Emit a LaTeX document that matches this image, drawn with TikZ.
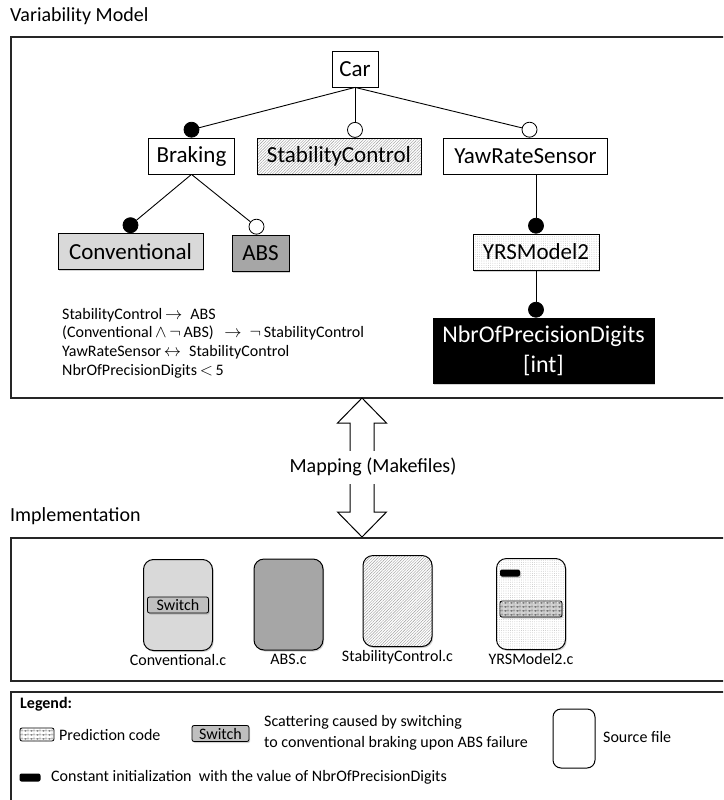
\documentclass[tikz,border=0pt]{standalone}
\usepackage{fontspec}
\setmainfont{Carlito}
\usetikzlibrary{positioning,calc,shadows,patterns,patterns.meta}

\definecolor{convgray}{HTML}{D9D9D9}
\definecolor{absgray}{HTML}{A6A6A6}
\definecolor{switchgray}{HTML}{BFBFBF}
\newcommand{\fsz}[2]{\fontsize{#1}{#2}\selectfont}

% small bricks for the prediction code
\pgfdeclarepatternformonly{finebricks}{\pgfpointorigin}{\pgfqpoint{6pt}{4pt}}{\pgfqpoint{6pt}{4pt}}{%
  \pgfsetlinewidth{0.35pt}
  \pgfpathmoveto{\pgfqpoint{0pt}{0pt}}\pgfpathlineto{\pgfqpoint{6pt}{0pt}}
  \pgfpathmoveto{\pgfqpoint{0pt}{2pt}}\pgfpathlineto{\pgfqpoint{6pt}{2pt}}
  \pgfpathmoveto{\pgfqpoint{1.5pt}{0pt}}\pgfpathlineto{\pgfqpoint{1.5pt}{2pt}}
  \pgfpathmoveto{\pgfqpoint{4.5pt}{2pt}}\pgfpathlineto{\pgfqpoint{4.5pt}{4pt}}
  \pgfusepath{stroke}}

\begin{document}
\begin{tikzpicture}[x=1pt, y=-1pt,
    frame/.style={draw=black!85, line width=1.4pt},
    feat/.style={draw, line width=0.8pt, minimum height=36pt, inner xsep=3pt, inner ysep=0pt, font=\fsz{23}{28}},
    tree/.style={line width=0.9pt},
    mand/.style={circle, draw, line width=0.8pt, fill=black, minimum size=15pt, inner sep=0pt, anchor=south},
    opt/.style={mand, fill=white},
    shade/.style={drop shadow={shadow xshift=1.2pt, shadow yshift=-1.5pt, opacity=0.35}},
    hatch/.style={preaction={fill=white}, pattern={Lines[angle=45,distance=2pt,line width=0.4pt]}, pattern color=gray!80},
    dotty/.style={preaction={fill=white}, pattern={Dots[distance=2.2pt,radius=0.35pt]}, pattern color=gray!70},
    srcfile/.style={draw, line width=1pt, rounded corners=10pt, minimum width=69pt, minimum height=91pt},
    switchbox/.style={draw, line width=0.8pt, fill=switchgray, rounded corners=2pt, minimum width=#1, minimum height=16pt, inner sep=0pt, font=\fsz{16}{16}},
    predcode/.style={draw, line width=0.8pt, preaction={fill=white}, pattern=finebricks, pattern color=black!75, rounded corners=2pt, inner sep=0pt},
    constbar/.style={fill=black, rounded corners=2pt, minimum width=20pt, minimum height=7pt, inner sep=0pt},
    filelabel/.style={font=\fsz{16}{18}, inner sep=1pt},
    txt/.style={font=\fsz{16}{19}, inner sep=0pt, anchor=west}
  ]
  \useasboundingbox (0,0) rectangle (723,800);
  \clip (0,0) rectangle (723,800);

  % variability model
  \node[anchor=west, font=\fsz{20}{24}, inner sep=0pt] (vmTitle) at (10,16) {Variability Model};
  \draw[frame] (11,37) rectangle (740,398);

  \node[feat, minimum width=46pt] (car) at (355,69) {Car};
  \node[feat, minimum width=86pt] (braking) at (191.5,156) {Braking};
  \node[feat, shade, hatch, minimum width=164pt] (stab) at (339,156) {StabilityControl};
  \node[feat, minimum width=164pt] (yaw) at (525.5,156) {YawRateSensor};
  \node[feat, shade, fill=convgray, minimum width=145pt] (conv) at (130.5,251.5) {Conventional};
  \node[feat, shade, fill=absgray, minimum width=57pt] (abs) at (260.5,253) {ABS};
  \node[feat, shade, dotty, minimum width=126pt] (yrs2) at (536,252) {YRSModel2};
  \node[feat, shade, fill=black, text=white, align=center, minimum width=221pt,
        minimum height=65pt, font=\fsz{24}{30}] (nbr) at (543.5,350.5) {NbrOfPrecisionDigits\\{[int]}};

  % mandatory / optional markers
  \node[mand] (cBraking) at (braking.north) {};
  \node[opt] (cStab) at (car.south |- stab.north) {};
  \node[opt] (cYaw) at ($(yaw.north)+(4,0)$) {};
  \node[mand] (cConv) at (conv.north) {};
  \node[opt] (cAbs) at ($(abs.north)+(-4,0)$) {};
  \node[mand] (cYrs2) at (yrs2.north) {};
  \node[mand] (cNbr) at (yrs2.south |- nbr.north) {};

  \draw[tree] (car.south) -- (cBraking);
  \draw[tree] (car.south) -- (cStab);
  \draw[tree] (car.south) -- (cYaw);
  \draw[tree] (braking.south) -- (cConv);
  \draw[tree] (braking.south) -- (cAbs);
  \draw[tree] (cYrs2 |- yaw.south) -- (cYrs2);
  \draw[tree] (yrs2.south) -- (cNbr);

  % cross-tree constraints
  \node[anchor=north west, align=left, font=\fsz{16}{18.6}, inner sep=0pt] (rules) at (62,308)
    {StabilityControl\,$\rightarrow$\enspace ABS\\
     (Conventional\,$\wedge$\,$\neg$\,ABS)\enspace\,$\rightarrow$\enspace$\neg$\,StabilityControl\\
     YawRateSensor\,$\leftrightarrow$\enspace StabilityControl\\
     NbrOfPrecisionDigits\,$<$\,5};

  % mapping arrow
  \coordinate (mapTop) at (362,398);
  \coordinate (mapBot) at (362,537);
  \draw[line width=1pt, fill=white] (mapTop) -- ++(24.5,25) -- ++(-12.5,0)
    -- ($(mapBot)+(12,-25)$) -- ++(12.5,0) -- (mapBot) -- ++(-24.5,-25) -- ++(12.5,0)
    -- ($(mapTop)+(-12,25)$) -- ++(-12.5,0) -- cycle;
  \node[fill=white, font=\fsz{20}{24}, inner xsep=2pt, minimum height=33pt] (mapLabel) at (373,467) {Mapping (Makefiles)};

  % implementation
  \node[anchor=west, font=\fsz{20}{24}, inner sep=0pt] (implTitle) at (10,516) {Implementation};
  \draw[frame] (11,538) rectangle (740,681);

  \node[srcfile, shade, fill=convgray] (convFile) at (178,605) {};
  \node[srcfile, shade, fill=absgray] (absFile) at (288.5,604.5) {};
  \node[srcfile, shade, hatch] (stabFile) at (397.5,601) {};
  \node[srcfile, shade, dotty] (yrsFile) at (531,604) {};

  \node[switchbox=61pt, shade] (convSwitch) at (convFile.center) {Switch};
  \node[constbar, shade] (yrsConst) at ($(yrsFile.north west)+(14,15)$) {};
  \node[predcode, shade, minimum width=62pt, minimum height=16pt] (yrsPred) at ($(yrsFile.center)+(0,5)$) {};

  \node[filelabel, below=2pt of convFile] (convLabel) {Conventional.c};
  \node[filelabel, below=2pt of absFile] (absLabel) {ABS.c};
  \node[filelabel, below=2pt of stabFile] (stabLabel) {StabilityControl.c};
  \node[filelabel, below=2pt of yrsFile] (yrsLabel) {YRSModel2.c};

  % legend
  \draw[frame] (11,692) rectangle (740,810);
  \node[txt] (lgTitle) at (20,704) {\bfseries Legend:};
  \node[predcode, minimum width=34pt, minimum height=13pt] (lgPred) at (37,734.5) {};
  \node[txt] (lgPredText) at (59,735) {Prediction code};
  \node[switchbox=57pt, shade] (lgSwitch) at (220.5,733.5) {Switch};
  \node[txt, align=left, font=\fsz{16}{21}] (lgSwitchText) at (264,733) {Scattering caused by switching\\to conventional braking upon ABS failure};
  \node[draw, line width=1pt, rounded corners=8pt, minimum width=42pt, minimum height=59pt] (lgFile) at (574,738.5) {};
  \node[txt] (lgFileText) at (603,737) {Source file};
  \node[constbar, minimum width=21pt, minimum height=8pt] (lgConst) at (30,777.5) {};
  \node[txt] (lgConstText) at (51,777) {Constant initialization\ \ with the value of NbrOfPrecisionDigits};
\end{tikzpicture}
\end{document}
